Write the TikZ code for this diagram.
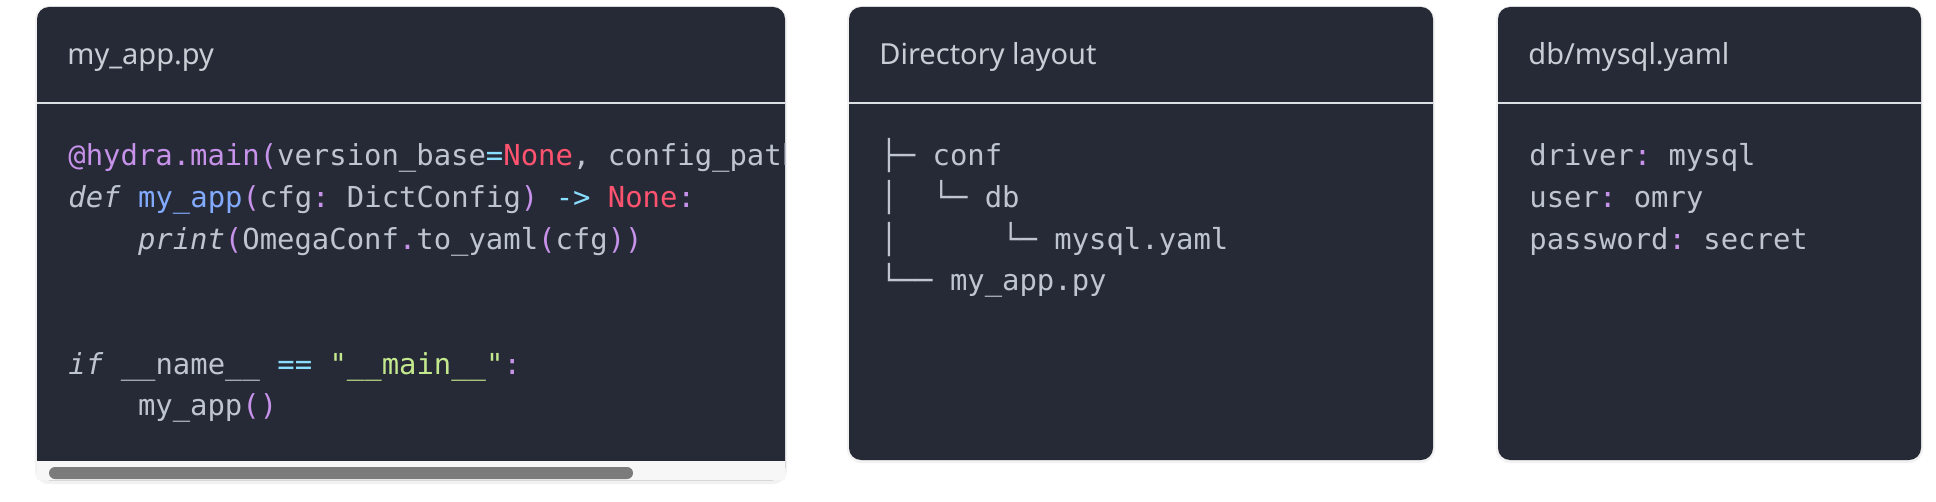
\documentclass[tikz,border=0pt]{standalone}
\usepackage{fontspec}
\setmainfont{Noto Sans}
\setmonofont{DejaVu Sans Mono}
\definecolor{pagebg}{HTML}{FFFFFF}
\definecolor{panelbg}{HTML}{262A36}
\definecolor{txt}{HTML}{BFC5D0}
\definecolor{hdtxt}{HTML}{C9CED6}
\definecolor{seplin}{HTML}{DCDFE4}
\definecolor{kpurple}{HTML}{C792EA}
\definecolor{kblue}{HTML}{82AAFF}
\definecolor{kred}{HTML}{FF5370}
\definecolor{kcyan}{HTML}{89DDFF}
\definecolor{kgreen}{HTML}{C3E88D}
\definecolor{stripbg}{HTML}{F7F7F7}
\definecolor{thumb}{HTML}{7B7B7B}
\newcommand{\tokP}[1]{\textcolor{kpurple}{#1}}
\newcommand{\tokB}[1]{\textcolor{kblue}{#1}}
\newcommand{\tokR}[1]{\textcolor{kred}{#1}}
\newcommand{\tokC}[1]{\textcolor{kcyan}{#1}}
\newcommand{\tokG}[1]{\textcolor{kgreen}{#1}}
\begin{document}
\begin{tikzpicture}[x=0.5pt,y=-0.5pt,
  panel/.style={fill=panelbg, rounded corners=6pt},
  shadowbox/.style={fill=black!5, rounded corners=7pt},
  sepline/.style={draw=seplin, line width=1pt},
  codeline/.style={inner sep=0pt, anchor=base west, text=txt,
    font=\ttfamily\fontsize{14.45}{17}\selectfont},
  headline/.style={inner sep=0pt, anchor=base west, text=hdtxt,
    font=\fontsize{14.5}{17}\selectfont}]
\useasboundingbox (0,0) rectangle (1936,502);
\fill[pagebg] (0,0) rectangle (1936,502);

% ---------- panel 1 ----------
\fill[shadowbox] (35,6) rectangle (787,484);
\fill[panel] (37,7) rectangle (785,480);
\fill[stripbg] (37,461) rectangle (785,480);
\fill[thumb, rounded corners=3pt] (49,467) rectangle (633,479);
\draw[sepline] (37,103) -- (785,103);
\node[headline] (h1) at (67,65) {my\_app.py};
\begin{scope}
\clip (37,104) rectangle (785,461);
\node[codeline] (c1) at (68,166) {\tokP{@hydra.main(}version\_base\tokC{=}\tokR{None}, config\_path};
\node[codeline] (c2) at (68,207.6) {\textit{def} \tokB{my\_app}\tokP{(}cfg\tokP{:} DictConfig\tokP{)} \tokC{->} \tokR{None}\tokP{:}};
\node[codeline] (c3) at (137.6,249.2) {\textit{print}\tokP{(}OmegaConf\tokP{.}to\_yaml\tokP{(}cfg\tokP{))}};
\node[codeline] (c6) at (68,374) {\textit{if} \_\_name\_\_ \tokC{==} \tokG{"\_\_main\_\_"}\tokP{:}};
\node[codeline] (c7) at (137.6,415.6) {my\_app\tokP{()}};
\end{scope}

% ---------- panel 2 ----------
\fill[shadowbox] (847,6) rectangle (1435,463);
\fill[panel] (849,7) rectangle (1433,460);
\draw[sepline] (849,103) -- (1433,103);
\node[headline] (h2) at (879,65) {Directory layout};
\node[codeline] (t1) at (880,166) {├─ conf};
\node[codeline] (t2) at (880,207.6) {│\ \ └─ db};
\node[codeline] (t3) at (880,249.2) {│\ \ \ \ \ \ └─ mysql.yaml};
\node[codeline] (t4) at (880,290.8) {└── my\_app.py};

% ---------- panel 3 ----------
\fill[shadowbox] (1496,6) rectangle (1923,463);
\fill[panel] (1498,7) rectangle (1921,460);
\draw[sepline] (1498,103) -- (1921,103);
\node[headline] (h3) at (1528,65) {db/mysql.yaml};
\node[codeline] (y1) at (1529,166) {driver\tokP{:} mysql};
\node[codeline] (y2) at (1529,207.6) {user\tokP{:} omry};
\node[codeline] (y3) at (1529,249.2) {password\tokP{:} secret};
\end{tikzpicture}
\end{document}
